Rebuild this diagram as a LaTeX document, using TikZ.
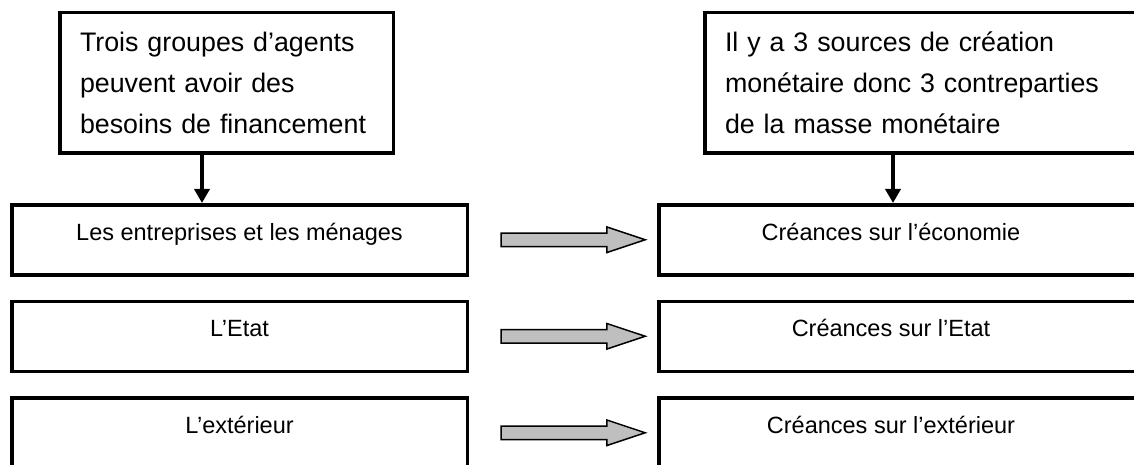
\documentclass[tikz,border=0pt]{standalone}
\usepackage{fontspec}
\setmainfont{Liberation Sans}
\usetikzlibrary{arrows.meta, positioning, shapes.arrows, calc}

\begin{document}
\begin{tikzpicture}[x=1pt, y=-1pt,
    cadre/.style={draw, line width=3.5pt, inner sep=0pt},
    haut/.style={cadre, minimum height=140.5pt, inner xsep=20.25pt, align=left,
        font=\fontsize{26.8}{41}\selectfont},
    ligne/.style={cadre, minimum width=455.5pt, minimum height=70pt},
    etiq/.style={anchor=base, inner sep=0pt, font=\fontsize{23.5}{28}\selectfont},
    fleche/.style={line width=3.5pt, -{Triangle[length=14pt, width=15pt]}},
    flux/.style={single arrow, draw, line width=1.5pt, fill=black!25, inner sep=0pt,
        text height=12pt, text depth=0pt, minimum height=144pt,
        single arrow head extend=6pt, single arrow tip angle=36.87}]
    \useasboundingbox (0,0) rectangle (1134,465);
    \clip (0,0) rectangle (1134,465);

    % boites du haut
    \node[haut, text width=293pt, anchor=north west] (besoins) at (58,11)
        {Trois groupes d’agents\\peuvent avoir des\\besoins de financement};
    \node[haut, text width=400pt, right=308pt of besoins] (sources)
        {Il y a 3 sources de création\\monétaire donc 3 contreparties\\de la masse monétaire};

    % colonne de gauche : les agents
    \node[ligne, anchor=north west] (ent) at (10,203) {};
    \node[ligne, below=23pt of ent] (etat) {};
    \node[ligne, below=23pt of etat] (ext) {};

    % colonne de droite : les contreparties
    \node[ligne, minimum width=500pt, right=188pt of ent] (ceco) {};
    \node[ligne, minimum width=500pt, right=188pt of etat] (cetat) {};
    \node[ligne, minimum width=500pt, right=188pt of ext] (cext) {};

    % fleches verticales
    \coordinate (fl1) at ([xshift=144pt]besoins.south west);
    \coordinate (fl2) at ([xshift=190pt]sources.south west);
    \draw[fleche] (fl1) -- (fl1 |- ent.north);
    \draw[fleche] (fl2) -- (fl2 |- ceco.north);

    % textes des lignes
    \node[etiq] (tent) at ($(ent.north)+(0,37)$) {Les entreprises et les ménages};
    \node[etiq] (tetat) at ($(etat.north)+(0,37)$) {L’Etat};
    \node[etiq] (text) at ($(ext.north)+(0,37)$) {L’extérieur};
    \node[etiq] (tceco) at ($(ceco.north -| fl2)+(-2,37)$) {Créances sur l’économie};
    \node[etiq] (tcetat) at ($(cetat.north -| fl2)+(-2,37)$) {Créances sur l’Etat};
    \node[etiq] (tcext) at ($(cext.north -| fl2)+(-2,37)$) {Créances sur l’extérieur};

    % fleches grises
    \node[flux] (f1) at ($(ent.east)!0.5!(ceco.west)$) {};
    \node[flux] (f2) at ($(etat.east)!0.5!(cetat.west)$) {};
    \node[flux] (f3) at ($(ext.east)!0.5!(cext.west)$) {};
\end{tikzpicture}
\end{document}
